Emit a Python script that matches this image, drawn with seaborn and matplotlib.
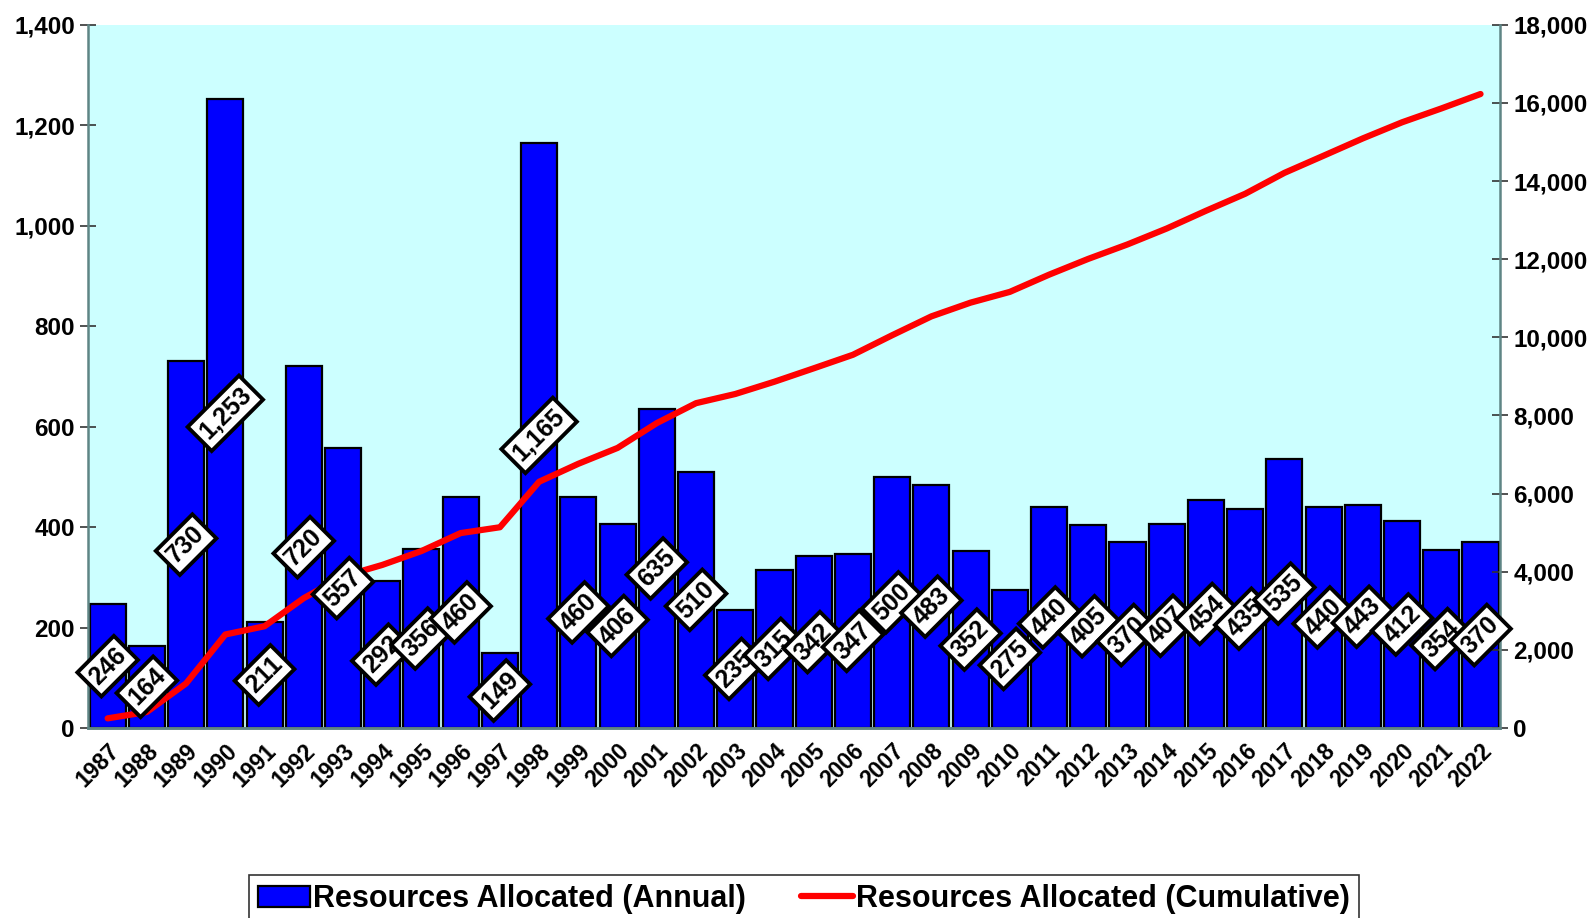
import seaborn as sns
import matplotlib.pyplot as plt
import matplotlib.ticker as mticker
import numpy as np
import pandas as pd

years = [str(y) for y in range(1987, 2023)]
annual = [246, 164, 730, 1253, 211, 720, 557, 292, 356, 460, 149, 1165,
          460, 406, 635, 510, 235, 315, 342, 347, 500, 483, 352, 275,
          440, 405, 370, 407, 454, 435, 535, 440, 443, 412, 354, 370]
cumulative = [246, 410, 1140, 2393, 2604, 3324, 3881, 4173, 4529, 4989, 5138, 6303,
              6763, 7169, 7804, 8314, 8549, 8864, 9206, 9553, 10053, 10536, 10888, 11163,
              11603, 12008, 12378, 12785, 13239, 13674, 14209, 14649, 15092, 15504, 15858, 16228]

sns.set_theme(style='white')
plt.rcParams['font.family'] = ['Liberation Sans', 'DejaVu Sans']
plt.rcParams['font.weight'] = 'bold'
plt.rcParams['text.color'] = 'black'
plt.rcParams['xtick.color'] = 'black'
plt.rcParams['ytick.color'] = 'black'

df = pd.DataFrame({'year': years, 'annual': annual, 'cum': cumulative, 'pos': np.arange(len(years))})

fig = plt.figure(figsize=(15.92, 9.18), dpi=100)
ax = fig.add_axes([0.0553, 0.207, 0.887, 0.766])
ax.set_facecolor('#CCFFFF')

sns.barplot(data=df, x='year', y='annual', color='#0000FF', saturation=1, width=0.92,
            edgecolor='black', linewidth=1.6, ax=ax, label='Resources Allocated (Annual)')
ax.set_xlim(-0.5, len(years) - 0.5)
ax.set_ylim(0, 1400)
ax.set_yticks(np.arange(0, 1401, 200))
ax.yaxis.set_major_formatter(mticker.StrMethodFormatter('{x:,.0f}'))
ax.set_xlabel('')
ax.set_ylabel('')

ax2 = ax.twinx()
sns.lineplot(data=df, x='pos', y='cum', color='#FF0000', linewidth=4.5, ax=ax2,
             label='Resources Allocated (Cumulative)', zorder=2)
ax2.lines[0].set_solid_capstyle('round')
ax2.set_ylim(0, 18000)
ax2.set_yticks(np.arange(0, 18001, 2000))
ax2.yaxis.set_major_formatter(mticker.StrMethodFormatter('{x:,.0f}'))
ax2.set_ylabel('')
ax2.set_xlabel('')
ax2.set_xlim(-0.5, len(years) - 0.5)

h1, l1 = ax.get_legend_handles_labels()
h2, l2 = ax2.get_legend_handles_labels()
if ax.get_legend():
    ax.get_legend().remove()
if ax2.get_legend():
    ax2.get_legend().remove()

# labels sit on top of the line
for i, v in enumerate(annual):
    ax2.text(i, v / 2, f'{v:,}', transform=ax.transData, rotation=45,
             ha='center', va='center', fontsize=18, fontweight='bold', zorder=5,
             color='black',
             bbox=dict(boxstyle='square,pad=0.2', fc='white', ec='black', lw=2.8))

ax.set_xticks(np.arange(len(years)))
ax.set_xticklabels(years, rotation=45, ha='right', va='top', rotation_mode='anchor',
                   fontsize=16.5, fontweight='bold')
ax.set_xticks(np.arange(-0.5, len(years)), minor=True)
ax.tick_params(axis='x', which='major', length=0, pad=8)
ax.tick_params(axis='x', which='minor', length=9, width=1.2, color='#333333', direction='out')
ax.tick_params(axis='y', length=12, width=1.2, direction='inout', labelsize=17.5, color='#333333')
ax2.tick_params(axis='y', length=12, width=1.2, direction='inout', labelsize=17.5, color='#333333')
for lab in ax.get_yticklabels() + ax2.get_yticklabels():
    lab.set_fontweight('bold')

for a in (ax, ax2):
    a.spines['top'].set_visible(False)
    for s in ('left', 'right', 'bottom'):
        a.spines[s].set_color('#5f8585')
        a.spines[s].set_linewidth(1.8)
ax.spines['right'].set_visible(False)
ax2.spines['left'].set_visible(False)
ax.grid(False)
ax2.grid(False)

leg = fig.legend(h1 + h2, l1 + l2, loc='upper center', bbox_to_anchor=(0.505, 0.047),
                 ncol=2, frameon=True, fancybox=False, edgecolor='black',
                 prop={'size': 22, 'weight': 'bold'}, handlelength=1.7, handletextpad=0.1,
                 columnspacing=1.8, borderpad=0.3, borderaxespad=0)
leg.get_frame().set_linewidth(1.2)

fig.savefig('out.png', dpi=100)
